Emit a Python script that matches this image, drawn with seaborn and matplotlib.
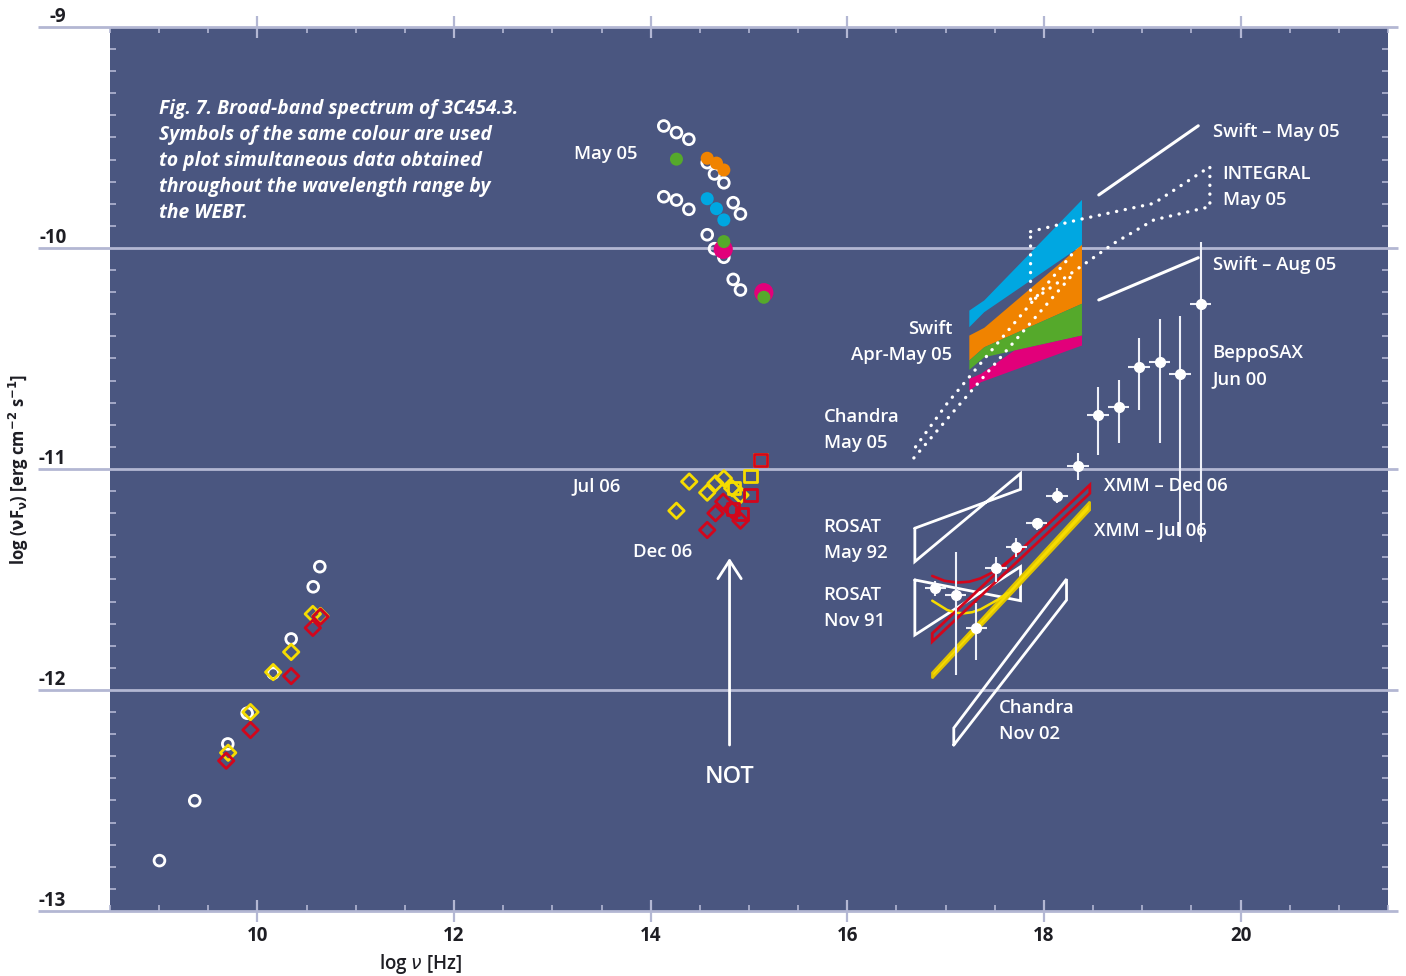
import numpy as np
import pandas as pd
import matplotlib
matplotlib.use("Agg")
import matplotlib.pyplot as plt
import seaborn as sns

# ---------------- data: log nu [Hz] vs log nuFnu [erg cm^-2 s^-1] ----------------
# radio (open circles: earlier epoch; diamonds: Jul 06 / Dec 06)
radio_open_x = [10.634, 10.567, 10.343, 10.160, 9.895, 9.698, 9.362, 9.003]
radio_open_y = [-11.442, -11.533, -11.769, -11.924, -12.105, -12.244, -12.501, -12.772]
radio_jul06_x = [10.563, 10.641, 10.343, 10.160, 9.929, 9.702]
radio_jul06_y = [-11.656, -11.665, -11.828, -11.919, -12.100, -12.284]
radio_dec06_x = [10.641, 10.563, 10.343, 9.929, 9.682]
radio_dec06_y = [-11.668, -11.719, -11.937, -12.181, -12.320]

# optical/near-IR, May 05
opt_open_x = [14.133, 14.262, 14.388, 14.575, 14.649, 14.744, 14.133, 14.262,
              14.388, 14.839, 14.913, 14.575, 14.649, 14.744, 14.839, 14.913]
opt_open_y = [-9.448, -9.478, -9.508, -9.614, -9.665, -9.705, -9.768, -9.783,
              -9.825, -9.795, -9.846, -9.940, -10.003, -10.042, -10.142, -10.190]
opt_orange_x = [14.575, 14.669, 14.744]
opt_orange_y = [-9.594, -9.616, -9.647]
opt_blue_x = [14.575, 14.669, 14.744]
opt_blue_y = [-9.777, -9.822, -9.873]
opt_green_x = [14.262, 14.744, 15.151]
opt_green_y = [-9.598, -9.971, -10.223]
opt_magenta_x = [14.738, 15.151]
opt_magenta_y = [-10.006, -10.202]

# optical, Jul 06 (yellow) and Dec 06 (red)
jul06_diam_x = [14.392, 14.262, 14.575, 14.659, 14.744, 14.829, 14.913]
jul06_diam_y = [-11.057, -11.189, -11.107, -11.065, -11.042, -11.087, -11.118]
jul06_sq_x = [15.015, 14.845, 15.117]
jul06_sq_y = [-11.032, -11.087, -10.959]
dec06_diam_x = [14.738, 14.659, 14.575, 14.913, 14.829]
dec06_diam_y = [-11.148, -11.200, -11.276, -11.234, -11.186]
dec06_sq_x = [15.117, 15.015, 14.839, 14.931]
dec06_sq_y = [-10.959, -11.118, -11.182, -11.204]

# Swift Apr-May 05 bands
swift_blue_x = [17.236, 17.388, 18.382]
swift_blue_hi = [-10.281, -10.235, -9.780]
swift_blue_lo = [-10.356, -10.288, -9.986]
swift_orange_x = [17.236, 17.388, 18.382]
swift_orange_hi = [-10.394, -10.359, -9.983]
swift_orange_lo = [-10.507, -10.447, -10.250]
swift_green_x = [17.236, 17.388, 17.694, 18.382]
swift_green_hi = [-10.507, -10.447, -10.386, -10.250]
swift_green_lo = [-10.549, -10.492, -10.462, -10.394]
swift_magenta_x = [17.236, 17.355, 17.694, 18.382]
swift_magenta_hi = [-10.590, -10.567, -10.462, -10.394]
swift_magenta_lo = [-10.643, -10.605, -10.550, -10.439]

# Swift power-law slopes
swift_may_x = [18.558, 19.570]
swift_may_y = [-9.760, -9.447]
swift_aug_x = [18.558, 19.570]
swift_aug_y = [-10.235, -10.044]

# INTEGRAL May 05 (outline)
integral_x = [17.864, 18.372, 19.118, 19.688, 19.688, 19.118, 18.711, 18.372, 17.864, 17.864]
integral_y = [-9.926, -9.870, -9.798, -9.632, -9.813, -9.873, -9.979, -10.085, -10.243, -9.926]

# Chandra May 05 (two bounding lines)
chandra05_up_x = [16.694, 17.016, 18.288]
chandra05_up_y = [-10.900, -10.703, -10.027]
chandra05_lo_x = [16.677, 17.152, 18.288]
chandra05_lo_y = [-10.950, -10.703, -10.122]

# ROSAT bow-ties
rosat92_x = [16.687, 16.687, 17.762, 17.762, 16.687]
rosat92_y = [-11.268, -11.419, -11.020, -11.092, -11.268]
rosat91_x = [16.687, 16.687, 17.762, 17.762, 16.687]
rosat91_y = [-11.502, -11.751, -11.442, -11.596, -11.502]

# Chandra Nov 02
chandra02_x = [17.083, 17.083, 18.230, 18.230, 17.083]
chandra02_y = [-12.249, -12.172, -11.498, -11.593, -12.249]

# XMM Dec 06 (red) and Jul 06 (yellow)
xmm_dec_x = [16.864, 18.467, 18.467, 16.864, 16.864]
xmm_dec_y = [-11.744, -11.072, -11.110, -11.781, -11.744]
xmm_dec_curve_x = [16.864, 16.990, 17.118, 17.240, 17.355, 17.525, 17.694, 17.795]
xmm_dec_curve_y = [-11.484, -11.506, -11.514, -11.510, -11.495, -11.457, -11.397, -11.359]
xmm_jul_x = [16.864, 18.467, 18.467, 16.864, 16.864]
xmm_jul_y = [-11.922, -11.148, -11.186, -11.947, -11.922]
xmm_jul_curve_x = [16.864, 17.016, 17.100, 17.185, 17.270, 17.355, 17.525, 17.627]
xmm_jul_curve_y = [-11.596, -11.638, -11.650, -11.653, -11.648, -11.635, -11.593, -11.562]

# BeppoSAX Jun 00
sax_x = [19.593, 19.382, 19.176, 18.969, 18.759, 18.552, 18.345, 18.135,
         17.925, 17.721, 17.515, 17.314, 17.101, 16.897]
sax_y = [-10.253, -10.570, -10.516, -10.540, -10.718, -10.756, -10.985, -11.122,
         -11.246, -11.352, -11.450, -11.721, -11.570, -11.540]
sax_ylo = [-11.330, -11.308, -10.881, -10.733, -10.884, -10.937, -11.050, -11.155,
           -11.276, -11.397, -11.510, -11.864, -11.932, -11.575]
sax_yhi = [-9.973, -10.308, -10.323, -10.409, -10.597, -10.628, -10.929, -11.087,
           -11.223, -11.314, -11.397, -11.608, -11.374, -11.507]
sax_xerr = 0.11

caption_lines = ["Fig. 7. Broad-band spectrum of 3C454.3.",
                 "Symbols of the same colour are used",
                 "to plot simultaneous data obtained",
                 "throughout the wavelength range by",
                 "the WEBT."]

x_ticks = [10, 12, 14, 16, 18, 20]
y_ticks = [-13, -12, -11, -10, -9]
y_ticklabels = ["-13", "-12", "-11", "-10", "-9"]

# ---------------- style ----------------
BG = "#4a5680"
LINE = "#b3b7d3"
WHITE = "#ffffff"
ORANGE = "#f08300"
BLUE = "#00a7e1"
GREEN = "#55a92b"
MAGENTA = "#e2007a"
YELLOW = "#f6dc00"
RED = "#d2061c"
DARK = "#1e1e24"

sns.set_theme(style="white")
plt.rcParams["font.family"] = ["Open Sans", "DejaVu Sans"]

fig = plt.figure(figsize=(14.06, 9.76), dpi=100)
ax = fig.add_axes([0.07824, 0.06660, 0.90896, 0.90574])
ax.set_facecolor(BG)
ax.set_xlim(8.5, 21.5)
ax.set_ylim(-13, -9)
for sp in ax.spines.values():
    sp.set_visible(False)

# ticks
ax.set_xticks(x_ticks)
ax.set_xticks(np.arange(8.5, 21.51, 0.5), minor=True)
ax.set_xticklabels([str(t) for t in x_ticks], fontweight="bold", color=DARK)
ax.tick_params(axis="x", which="major", direction="inout", length=16, width=1.6,
               color=LINE, top=True, bottom=True, labelsize=13.5, pad=3)
ax.tick_params(axis="x", which="minor", direction="in", length=4, width=1.2,
               color=LINE, top=True, bottom=True)
ax.set_yticks(y_ticks)
ax.set_yticks(np.arange(-13, -8.99, 0.1), minor=True)
ax.set_yticklabels(y_ticklabels, fontweight="bold", color=DARK, va="bottom")
ax.tick_params(axis="y", which="major", length=0, pad=31.5, labelsize=13.5)
ax.tick_params(axis="y", which="minor", direction="in", length=4, width=1.2,
               color=LINE, left=True, right=True)

# horizontal rules extending beyond the plotting area
for yv in y_ticks:
    ax.plot([-0.0563, 1.0078], [yv, yv], transform=ax.get_yaxis_transform(),
            color=LINE, lw=2, clip_on=False, zorder=1, solid_capstyle="butt")

ax.set_xlabel(r"log $\nu$ [Hz]", fontsize=13.5, color=DARK, fontweight="semibold")
ax.xaxis.set_label_coords(0.2433, -0.046)
ax.set_ylabel(r"log ($\mathbf{\nu}$F$_{\mathbf{\nu}}$) [erg cm$^{\mathbf{-2}}$ s$^{\mathbf{-1}}$]",
              fontsize=12, color=DARK, fontweight="bold")
ax.yaxis.set_label_coords(-0.062, 0.5)

# ---------------- X-ray / gamma-ray envelopes ----------------
for bx, bh, bl, col in [(swift_blue_x, swift_blue_hi, swift_blue_lo, BLUE),
                        (swift_orange_x, swift_orange_hi, swift_orange_lo, ORANGE),
                        (swift_green_x, swift_green_hi, swift_green_lo, GREEN),
                        (swift_magenta_x, swift_magenta_hi, swift_magenta_lo, MAGENTA)]:
    ax.fill_between(bx, bl, bh, color=col, lw=0, zorder=2)

dot = dict(color=WHITE, lw=2.4, linestyle=(0, (0.05, 2.6)), dash_capstyle="round", zorder=3)
ax.plot(integral_x, integral_y, **dot)
ax.plot(chandra05_up_x, chandra05_up_y, **dot)
ax.plot(chandra05_lo_x, chandra05_lo_y, **dot)

sns.lineplot(x=swift_may_x, y=swift_may_y, ax=ax, color=WHITE, lw=2.2, sort=False, estimator=None)
sns.lineplot(x=swift_aug_x, y=swift_aug_y, ax=ax, color=WHITE, lw=2.2, sort=False, estimator=None)

outline = dict(color=WHITE, lw=2.0, zorder=3, solid_joinstyle="miter")
ax.plot(rosat92_x, rosat92_y, **outline)
ax.plot(rosat91_x, rosat91_y, **outline)
ax.plot(chandra02_x, chandra02_y, **outline)

ax.fill(xmm_jul_x, xmm_jul_y, facecolor=YELLOW, edgecolor="#e0c400", lw=1.6, zorder=4)
ax.plot(xmm_jul_curve_x, xmm_jul_curve_y, color=YELLOW, lw=1.8, zorder=4)
ax.fill(xmm_dec_x, xmm_dec_y, facecolor="none", edgecolor=RED, lw=2.0, zorder=4)
ax.plot(xmm_dec_curve_x, xmm_dec_curve_y, color=RED, lw=1.9, zorder=4)

# BeppoSAX
sax_yerr = [np.array(sax_y) - np.array(sax_ylo), np.array(sax_yhi) - np.array(sax_y)]
ax.errorbar(sax_x, sax_y, yerr=sax_yerr, xerr=sax_xerr, fmt="o", ms=7,
            color=WHITE, ecolor="#eef0f8", elinewidth=1.5, capsize=0, zorder=5)

# ---------------- optical and radio points ----------------
def open_pts(xs, ys, marker, col, s, lw=2.0, z=6):
    sns.scatterplot(x=xs, y=ys, ax=ax, marker=marker, s=s, facecolor="none",
                    edgecolor=col, linewidth=lw, zorder=z)

def filled_pts(xs, ys, col, s, z=7):
    sns.scatterplot(x=xs, y=ys, ax=ax, marker="o", s=s, color=col,
                    edgecolor="none", linewidth=0, zorder=z)

open_pts(radio_open_x, radio_open_y, "o", WHITE, 60)
open_pts(radio_jul06_x, radio_jul06_y, "D", YELLOW, 62, z=7)
open_pts(radio_dec06_x, radio_dec06_y, "D", RED, 62, z=8)

open_pts(opt_open_x, opt_open_y, "o", WHITE, 60)
filled_pts(opt_magenta_x, opt_magenta_y, MAGENTA, 190, z=7)
filled_pts(opt_orange_x, opt_orange_y, ORANGE, 88, z=8)
filled_pts(opt_blue_x, opt_blue_y, BLUE, 88, z=8)
filled_pts(opt_green_x, opt_green_y, GREEN, 88, z=9)

open_pts(jul06_diam_x, jul06_diam_y, "D", YELLOW, 62, z=7)
open_pts(jul06_sq_x, jul06_sq_y, "s", YELLOW, 80, z=7)
open_pts(dec06_diam_x, dec06_diam_y, "D", RED, 62, z=8)
open_pts(dec06_sq_x, dec06_sq_y, "s", RED, 80, z=8)

# NOT arrow
ax.annotate("", xy=(14.802, -11.403), xytext=(14.802, -12.249),
            arrowprops=dict(arrowstyle="->,head_length=0.65,head_width=0.42",
                            color=WHITE, lw=2.0, mutation_scale=20,
                            shrinkA=0, shrinkB=0), zorder=6)
ax.text(14.802, -12.394, "NOT", color=WHITE, fontsize=17, fontweight="semibold",
        ha="center", va="center", zorder=10)

# ---------------- annotations ----------------
lab = dict(color=WHITE, fontsize=13.3, fontweight="semibold", va="center", zorder=10)
labels_left = [
    (13.215, -9.575, "May 05"),
    (13.205, -11.077, "Jul 06"),
    (13.815, -11.376, "Dec 06"),
    (15.758, -10.765, "Chandra"), (15.758, -10.883, "May 05"),
    (15.758, -11.263, "ROSAT"), (15.758, -11.381, "May 92"),
    (15.758, -11.571, "ROSAT"), (15.758, -11.688, "Nov 91"),
    (17.538, -12.082, "Chandra"), (17.538, -12.200, "Nov 02"),
    (19.715, -9.476, "Swift – May 05"),
    (19.817, -9.666, "INTEGRAL"), (19.817, -9.783, "May 05"),
    (19.715, -10.077, "Swift – Aug 05"),
    (19.715, -10.476, "BeppoSAX"), (19.715, -10.593, "Jun 00"),
    (18.616, -11.077, "XMM – Dec 06"),
    (18.505, -11.276, "XMM – Jul 06"),
]
for tx, ty, s in labels_left:
    ax.text(tx, ty, s, ha="left", **lab)
for tx, ty, s in [(17.070, -10.367, "Swift"), (17.070, -10.485, "Apr-May 05")]:
    ax.text(tx, ty, s, ha="right", **lab)

for i, line in enumerate(caption_lines):
    ax.text(9.003, -9.372 - 0.1176 * i, line, color=WHITE, fontsize=13.9,
            fontweight="bold", fontstyle="italic", ha="left", va="center", zorder=10)

fig.savefig("out.png", dpi=100, facecolor="white")
